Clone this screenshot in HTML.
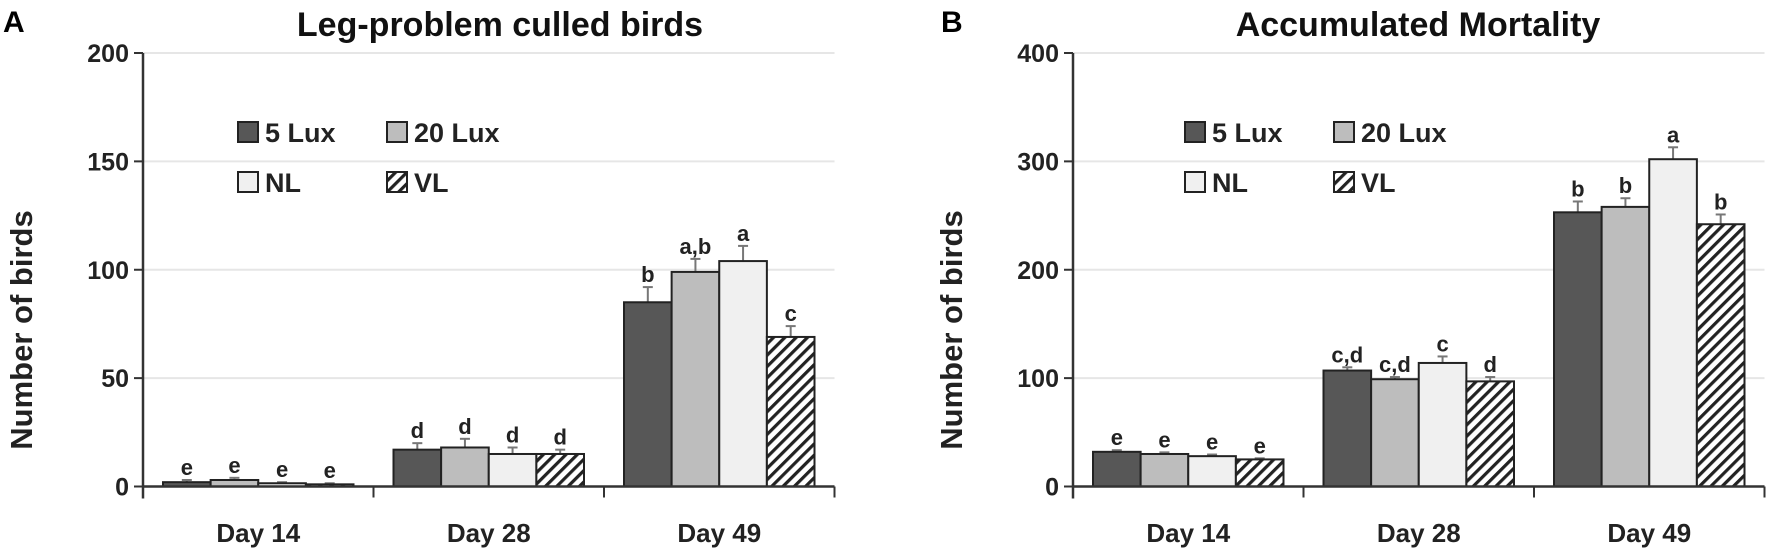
<!DOCTYPE html>
<html><head><meta charset="utf-8"><style>
html,body{margin:0;padding:0;background:#fff;}
svg{display:block;font-family:"Liberation Sans",sans-serif;}
</style></head><body>
<svg id="chart" width="1772" height="553" viewBox="0 0 1772 553">
<defs>
<pattern id="hatch" patternUnits="userSpaceOnUse" width="8" height="8" patternTransform="rotate(45)">
<rect width="8" height="8" fill="#fff"/><rect x="0" y="0" width="3.2" height="8" fill="#222"/>
</pattern>
</defs>
</svg>
<script>
const categories = ["Day 14","Day 28","Day 49"];
const seriesNames = ["5 Lux","20 Lux","NL","VL"];
// Panel A: leg-problem culled birds
const aValues = [[2,17,85],[3,18,99],[1.5,15,104],[1,15,69]];
const aErrors = [[1,3,7],[1,4,6],[0.5,3,7],[0.5,2,5]];
const aLetters = [["e","d","b"],["e","d","a,b"],["e","d","a"],["e","d","c"]];
const aTicks = [0,50,100,150,200];
// Panel B: accumulated mortality
const bValues = [[32,107,253],[30,99,258],[28,114,302],[25,97,242]];
const bErrors = [[1.5,3,10],[1.5,2,8],[1.5,6,11],[1,4,9]];
const bLetters = [["e","c,d","b"],["e","c,d","b"],["e","c","a"],["e","d","b"]];
const bTicks = [0,100,200,300,400];

const fills = ["#575757","#bdbdbd","#f0f0f0","url(#hatch)"];
const NS = "http://www.w3.org/2000/svg";
const svg = document.getElementById("chart");
function mk(tag, attrs, parent){const e=document.createElementNS(NS,tag);for(const k in attrs)e.setAttribute(k,attrs[k]);(parent||svg).appendChild(e);return e;}

function panel(opt){
  const g = mk("g",{});
  
  
  const x0=opt.x0, catW=230.5, yBase=486.5, yTop=53, maxV=opt.ticks[opt.ticks.length-1];
  const yS = v => yBase - v/maxV*(yBase-yTop);
  const xEnd = x0 + catW*categories.length;
  opt.ticks.forEach(t=>{
    const y=yS(t);
    if(t>0){const gl=mk("line",{x1:x0,x2:xEnd,y1:y,y2:y,stroke:"#e6e6e6","stroke-width":2},g);
      }
    mk("line",{x1:x0-9,x2:x0,y1:y,y2:y,stroke:"#333","stroke-width":2},g);
    const tl=mk("text",{x:x0-14,y:y+9,"text-anchor":"end","font-size":25,"font-weight":"bold",fill:"#222"},g);
    tl.textContent=t;
    
  });
  const lg=mk("g",{},g);
  
  seriesNames.forEach((n,i)=>{
    const lx=opt.lx+(i%2)*149, ly=122+Math.floor(i/2)*50;
    const e=mk("g",{},lg);
    
    mk("rect",{x:lx,y:ly,width:20,height:20,fill:fills[i],stroke:"#222","stroke-width":2},e);
    const t=mk("text",{x:lx+27,y:ly+20,"font-size":27,"font-weight":"bold",fill:"#222"},e);
    t.textContent=n;
  });
  const margin=20, bw=(catW-2*margin)/4;
  categories.forEach((c,ci)=>{
    seriesNames.forEach((s,si)=>{
      const v=opt.values[si][ci], err=opt.errors[si][ci];
      const bx=x0+ci*catW+margin+si*bw, y=yS(v);
      const ey=yS(v+err), cx=bx+bw/2;
      const el=mk("line",{x1:cx,x2:cx,y1:y,y2:ey,stroke:"#777","stroke-width":2},g);
      
      mk("line",{x1:cx-5,x2:cx+5,y1:ey,y2:ey,stroke:"#777","stroke-width":2},g);
      const r=mk("rect",{x:bx,y:y,width:bw,height:yBase-y,fill:fills[si],stroke:"#222","stroke-width":2},g);
      
      
      const lt=mk("text",{x:cx,y:ey-5,"text-anchor":"middle","font-size":22,"font-weight":"bold",fill:"#222"},g);
      lt.textContent=opt.letters[si][ci];
      
    });
    const cl=mk("text",{x:x0+ci*catW+catW/2,y:542,"text-anchor":"middle","font-size":26,"font-weight":"bold",fill:"#222"},g);
    cl.textContent=c;
    
  });
  const ya=mk("line",{x1:x0,x2:x0,y1:yTop,y2:yBase+12,stroke:"#333","stroke-width":2.5},g);
  
  const xa=mk("line",{x1:x0,x2:xEnd,y1:yBase,y2:yBase,stroke:"#333","stroke-width":2.5},g);
  
  for(let i=1;i<=categories.length;i++) mk("line",{x1:x0+i*catW,x2:x0+i*catW,y1:yBase,y2:yBase+11,stroke:"#333","stroke-width":2},g);
  const yt=mk("text",{x:0,y:0,transform:`translate(${opt.yTitleX},330) rotate(-90)`,"text-anchor":"middle","font-size":31,"font-weight":"bold",fill:"#222"},g);
  yt.textContent="Number of birds";
  
  const ct=mk("text",{x:opt.titleX,y:36,"text-anchor":"middle","font-size":34,"font-weight":"bold",fill:"#111"},g);
  ct.textContent=opt.title;
  
  const pl=mk("text",{x:opt.labelX,y:32,"font-size":30,"font-weight":"bold",fill:"#000"},g);
  pl.textContent=opt.label;
  
}
panel({name:"panel-a",x0:143,values:aValues,errors:aErrors,letters:aLetters,ticks:aTicks,lx:238,yTitleX:32,titleX:500,title:"Leg-problem culled birds",labelX:3,label:"A"});
panel({name:"panel-b",x0:1073,values:bValues,errors:bErrors,letters:bLetters,ticks:bTicks,lx:1185,yTitleX:962,titleX:1418,title:"Accumulated Mortality",labelX:941,label:"B"});
</script>
</body></html>
